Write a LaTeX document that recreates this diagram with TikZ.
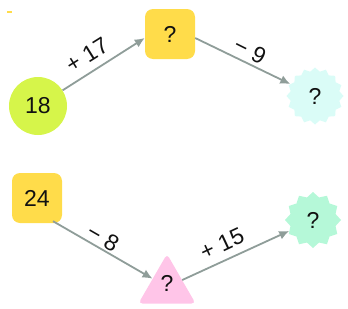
\documentclass[tikz,border=0pt]{standalone}
\usepackage{fontspec}
\setmainfont{Liberation Sans}
\usetikzlibrary{arrows.meta,shapes.geometric}
\definecolor{limec}{HTML}{D6F54A}
\definecolor{yellowc}{HTML}{FFDC4A}
\definecolor{cyanc}{HTML}{DAFCF7}
\definecolor{mintc}{HTML}{B5F8D8}
\definecolor{pinkc}{HTML}{FFC5E8}
\definecolor{arrowc}{HTML}{8F9D99}
\definecolor{textc}{HTML}{111111}
\tikzset{
  every node/.style={text=textc, font=\fontsize{23}{27}\selectfont, inner sep=0pt},
  circ/.style={circle, fill=limec, minimum size=58pt},
  sq/.style={rectangle, rounded corners=8pt, fill=yellowc, minimum size=50pt},
  star16/.style={star, star points=16, star point ratio=1.15, minimum size=57pt, fill=cyanc},
  star12/.style={star, star points=12, star point ratio=1.2, minimum size=56pt, fill=mintc},
  tri/.style={regular polygon, regular polygon sides=3, minimum size=66pt, rounded corners=4pt, fill=pinkc},
  arr/.style={draw=arrowc, line width=1.8pt, -{Latex[length=10pt,width=9pt]}},
  lab/.style={font=\fontsize{23}{27}\selectfont}
}
\begin{document}
\begin{tikzpicture}[x=1pt,y=-1pt]
\path[use as bounding box] (0,0) rectangle (348,308);
\draw[yellowc, line width=1.5pt] (7,12) -- (11.5,12);
% nodes
\node[circ] (n18) at (38,106) {18};
\node[sq] (q1) at (170,34) {?};
\node[star16] (s1) at (315,96) {?};
\node[sq] (n24) at (37,198) {24};
\node[tri, label={[yshift=4pt]center:?}] (t1) at (167,287) {};
\node[star12] (s2) at (313,220) {?};
% connectors
\draw[arr] (n18) -- ([yshift=-4pt]q1.west);
\draw[arr] ([yshift=-4pt]q1.east) -- (s1);
\draw[arr] ([xshift=16pt,yshift=2pt]n24.south) -- (t1);
\draw[arr] (t1) -- (s2);
% labels
\node[lab, rotate=32] (l1) at (87,55) {+ 17};
\node[lab, rotate=-26.5] (l2) at (250,51) {− 9};
\node[lab, rotate=-30] (l3) at (103,238) {− 8};
\node[lab, rotate=25] (l4) at (222,244) {+ 15};
\end{tikzpicture}
\end{document}
